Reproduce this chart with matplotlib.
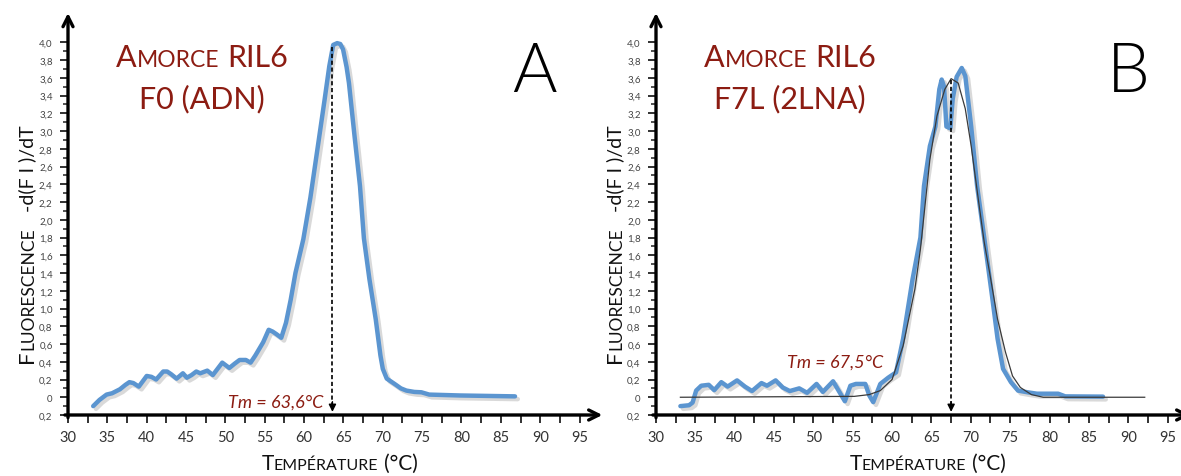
import matplotlib
matplotlib.use('Agg')
import matplotlib.pyplot as plt
import matplotlib.patheffects as pe
from matplotlib.transforms import Affine2D

FONT = 'Lato'
plt.rcParams['font.family'] = [FONT, 'DejaVu Sans']

# ---------------- data ----------------
temp_a = [33.2, 34.0, 34.9, 35.6, 36.6, 37.3, 37.8, 38.3, 39.0, 39.5, 40.0, 40.6, 41.2, 41.6,
          42.1, 42.6, 43.1, 43.8, 44.6, 45.1, 45.7, 46.3, 46.8, 47.7, 48.4, 49.0, 49.6, 50.5,
          51.2, 51.8, 52.6, 53.2, 53.8, 54.8, 55.5, 56.0, 56.5, 57.1, 57.7, 58.3, 58.9, 59.9,
          60.8, 61.8, 62.6, 63.2, 63.7, 64.2, 64.6, 64.95, 65.4, 65.7, 66.4, 67.1, 67.6, 68.3,
          69.1, 69.7, 70.0, 70.5, 71.5, 72.3, 73.0, 74.0, 74.9, 75.9, 79.8, 86.8]
fluo_a = [-0.10, -0.03, 0.03, 0.045, 0.09, 0.14, 0.17, 0.16, 0.12, 0.18, 0.24, 0.23, 0.20, 0.24,
          0.29, 0.29, 0.26, 0.21, 0.27, 0.22, 0.25, 0.29, 0.27, 0.30, 0.25, 0.32, 0.39, 0.33,
          0.38, 0.42, 0.42, 0.39, 0.47, 0.62, 0.76, 0.74, 0.71, 0.67, 0.84, 1.10, 1.40, 1.78,
          2.25, 2.86, 3.35, 3.73, 3.97, 3.99, 3.98, 3.92, 3.72, 3.54, 2.95, 2.38, 1.79, 1.33,
          0.88, 0.47, 0.32, 0.21, 0.15, 0.10, 0.075, 0.06, 0.056, 0.03, 0.02, 0.01]

temp_b = [33.1, 34.2, 34.65, 35.1, 35.75, 36.7, 37.4, 38.3, 39.1, 40.3, 41.3, 42.2, 43.4, 44.1,
          45.2, 46.1, 47.0, 48.2, 49.2, 50.4, 51.2, 52.5, 53.3, 54.0, 54.7, 55.4, 56.6, 57.1,
          57.6, 58.5, 59.5, 60.5, 61.4, 62.6, 63.6, 64.05, 64.8, 65.5, 66.0, 66.3, 66.6, 66.9,
          67.4, 67.7, 68.2, 68.85, 69.3, 70.05, 70.8, 71.7, 72.7, 73.4, 74.1, 75.1, 76.0, 77.2,
          78.4, 81.1, 82.0, 86.8]
fluo_b = [-0.10, -0.09, -0.06, 0.075, 0.13, 0.14, 0.08, 0.17, 0.12, 0.19, 0.12, 0.07, 0.16, 0.13,
          0.19, 0.11, 0.07, 0.10, 0.05, 0.15, 0.06, 0.18, 0.06, -0.045, 0.13, 0.15, 0.15, 0.02,
          -0.055, 0.15, 0.22, 0.28, 0.66, 1.33, 1.80, 2.38, 2.83, 3.05, 3.47, 3.58, 3.50, 3.05,
          3.03, 3.36, 3.61, 3.71, 3.62, 3.05, 2.38, 1.80, 1.14, 0.66, 0.32, 0.17, 0.075, 0.056,
          0.04, 0.04, 0.01, 0.007]

fit_temp_b = [33.1, 55.2, 57.1, 58.5, 60.0, 61.4, 62.9, 63.6, 64.05, 64.8, 65.7, 66.7, 67.5,
              68.4, 69.3, 70.05, 71.0, 71.7, 72.4, 73.4, 74.4, 75.3, 76.3, 77.7, 79.2, 92.1]
fit_b = [0.0, 0.01, 0.03, 0.075, 0.2, 0.58, 1.22, 1.67, 2.05, 2.68, 3.17, 3.47, 3.59,
         3.54, 3.25, 2.83, 2.2, 1.75, 1.40, 0.88, 0.51, 0.24, 0.11, 0.03, 0.0, 0.0]

tm_values = [63.6, 67.5]
tm_labels = ['Tm = 63,6°C', 'Tm = 67,5°C']
tm_tops = [3.95, 3.58]
primer_names = ['F0 (ADN)', 'F7L (2LNA)']
panel_letters = ['A', 'B']

x_ticks = [30, 35, 40, 45, 50, 55, 60, 65, 70, 75, 80, 85, 90, 95]
x_minor = [32.5, 37.5, 42.5, 47.5, 52.5, 57.5, 62.5, 67.5, 72.5, 77.5, 82.5, 87.5, 92.5]
y_ticks = [-0.2, 0.0, 0.2, 0.4, 0.6, 0.8, 1.0, 1.2, 1.4, 1.6, 1.8, 2.0, 2.2, 2.4, 2.6, 2.8,
           3.0, 3.2, 3.4, 3.6, 3.8, 4.0]
y_labels = ['0,2', '0', '0,2', '0,4', '0,6', '0,8', '1,0', '1,2', '1,4', '1,6', '1,8', '2,0',
            '2,2', '2,4', '2,6', '2,8', '3,0', '3,2', '3,4', '3,6', '3,8', '4,0']
y_minor = [-0.1, 0.1, 0.3, 0.5, 0.7, 0.9, 1.1, 1.3, 1.5, 1.7, 1.9, 2.1, 2.3, 2.5, 2.7, 2.9,
           3.1, 3.3, 3.5, 3.7, 3.9]

BLUE = '#5b95d0'
RED = '#8c1c12'

W, H = 1181, 477
fig = plt.figure(figsize=(W / 100, H / 100), dpi=100)
renderer = fig.canvas.get_renderer()


def text_width(s, size, weight='normal'):
    t = fig.text(0, 0, s, fontsize=size, family=[FONT, 'DejaVu Sans'], weight=weight)
    w = t.get_window_extent(renderer).width
    t.remove()
    return w


def space_width(size):
    return text_width('x x', size) - text_width('xx', size)


def draw_runs(ax, x, y, runs, color, rotation=0, ha='center', transform=None):
    """runs: list of (text, fontsize, kern_px); text of spaces means a gap."""
    if transform is None:
        transform = ax.transData
    widths = []
    for s, sz, kern in runs:
        if s.strip() == '':
            widths.append(space_width(sz) * len(s) + kern)
        else:
            widths.append(text_width(s, sz) + kern)
    total = sum(widths)
    off = -total / 2 if ha == 'center' else (-total if ha == 'right' else 0)
    for (s, sz, kern), w in zip(runs, widths):
        if s.strip() != '':
            if rotation == 90:
                tr = transform + Affine2D().translate(0, off)
            else:
                tr = transform + Affine2D().translate(off, 0)
            ax.text(x, y, s, fontsize=sz, color=color, transform=tr, rotation=rotation,
                    rotation_mode='anchor', ha='left', va='baseline', clip_on=False,
                    family=[FONT, 'DejaVu Sans'])
        off += w


pxx = 7.87   # pixels per degree
pxy = 88.75  # pixels per unit
xmin, xmax = 30, 98
ymin, ymax = -0.2, 4.35
ax_w = (xmax - xmin) * pxx
ax_h = (ymax - ymin) * pxy
lefts = [68, 656]
bottom_px = 416

for i, left in enumerate(lefts):
    ax = fig.add_axes([left / W, (H - bottom_px) / H, ax_w / W, ax_h / H])
    ax.set_xlim(xmin, xmax)
    ax.set_ylim(ymin, ymax)
    ax.patch.set_visible(False)
    for s in ax.spines.values():
        s.set_visible(False)

    ax.set_xticks(x_ticks)
    ax.set_xticklabels([str(v) for v in x_ticks])
    ax.set_xticks(x_minor, minor=True)
    ax.set_yticks(y_ticks)
    ax.set_yticklabels(y_labels)
    ax.set_yticks(y_minor, minor=True)
    ax.tick_params(axis='x', which='both', direction='out', length=6, width=1.3, color='#222',
                   labelsize=10.5, labelcolor='#333', pad=5)
    ax.tick_params(axis='y', which='major', direction='out', length=6, width=1.3, color='#222',
                   labelsize=7, labelcolor='#444', pad=5)
    ax.tick_params(axis='y', which='minor', direction='out', length=3.5, width=1.1, color='#222')

    # axis arrows
    ax.annotate('', xy=(xmax - 0.1, ymin), xytext=(29.6, ymin),
                arrowprops=dict(arrowstyle='->', lw=2.4, color='black',
                                mutation_scale=18, shrinkA=0, shrinkB=0),
                annotation_clip=False)
    ax.annotate('', xy=(xmin, 4.33), xytext=(xmin, ymin - 0.03),
                arrowprops=dict(arrowstyle='->', lw=2.4, color='black',
                                mutation_scale=18, shrinkA=0, shrinkB=0),
                annotation_clip=False)

    shadow = [pe.SimpleLineShadow(offset=(2.0, -2.0), shadow_color='#555', alpha=0.22),
              pe.Normal()]
    if i == 0:
        ax.plot(temp_a, fluo_a, color=BLUE, lw=3.2, solid_joinstyle='round',
                solid_capstyle='round', path_effects=shadow, zorder=3)
    else:
        ax.plot(temp_b, fluo_b, color=BLUE, lw=3.2, solid_joinstyle='round',
                solid_capstyle='round', path_effects=shadow, zorder=3)
        ax.plot(fit_temp_b, fit_b, color='#3a3a3a', lw=0.9, zorder=4)

    # Tm dashed arrow
    tm = tm_values[i]
    ax.plot([tm, tm], [tm_tops[i], -0.08], ls=(0, (2.5, 1.6)), color='black', lw=1.2, zorder=5)
    ax.annotate('', xy=(tm, -0.165), xytext=(tm, -0.05),
                arrowprops=dict(arrowstyle='-|>', color='black', lw=1.0,
                                mutation_scale=11, shrinkA=0, shrinkB=0),
                annotation_clip=False, zorder=5)

    # Tm label
    if i == 0:
        ax.text(62.5, -0.11, tm_labels[i], fontsize=13, style='italic', color=RED,
                ha='right', va='baseline')
    else:
        ax.text(58.9, 0.35, tm_labels[i], fontsize=13, style='italic', color=RED,
                ha='right', va='baseline')

    # Titles (small caps)
    draw_runs(ax, 47.0, 3.73, [('A', 22, 0), ('MORCE', 16.5, 0), (' ', 22, 0), ('RIL6', 22, 0)], RED)
    draw_runs(ax, 47.0, 3.27, [(primer_names[i], 22, 0)], RED)

    # Panel letter
    ax.text(89.3 + 0.7 * i, 3.45, panel_letters[i], fontsize=49, weight=300, color='black',
            ha='center', va='baseline', family=[FONT, 'DejaVu Sans'])

    # x label
    draw_runs(ax, 64.5, -0.81, [('T', 15, 0), ('EMPÉRATURE', 11.5, 0), (' ', 15, 0),
                                ('(°C)', 15, 0)], '#111')

    # y label (rotated), in figure coordinates
    draw_runs(ax, (33 + left - lefts[0]) / W, (H - 244) / H,
              [('F', 16, 0), ('LUORESCENCE', 12.5, 0), ('   ', 15, 0), ('-d(F I )/dT', 14, 0)],
              '#111', rotation=90, ha='center', transform=fig.transFigure)

fig.savefig('out.png', dpi=100)
